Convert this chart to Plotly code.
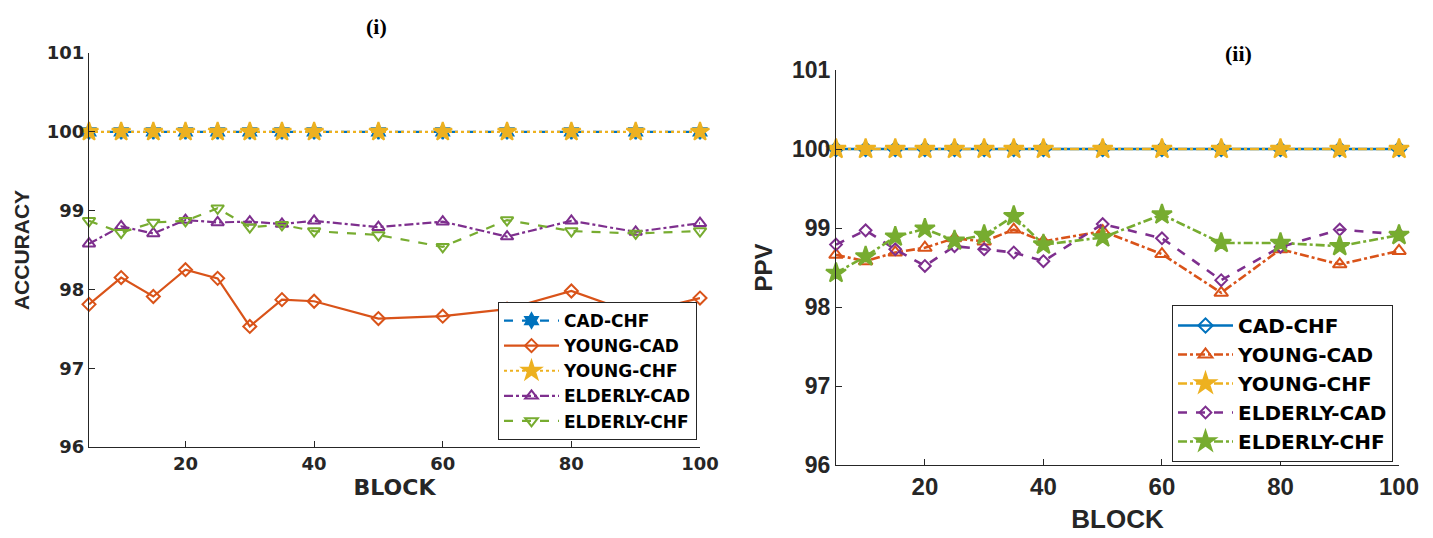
import plotly.graph_objects as go

# Block sizes shared by both panels
blocks = [5, 10, 15, 20, 25, 30, 35, 40, 50, 60, 70, 80, 90, 100]

# Panel (i): accuracy
acc_cad_chf = [100] * 14
acc_young_cad = [97.81, 98.15, 97.91, 98.25, 98.14, 97.53, 97.87, 97.85, 97.63, 97.66, 97.75, 97.98, 97.69, 97.89]
acc_young_chf = [100] * 14
acc_elderly_cad = [98.58, 98.80, 98.71, 98.88, 98.85, 98.86, 98.83, 98.87, 98.79, 98.86, 98.67, 98.87, 98.73, 98.84]
acc_elderly_chf = [98.87, 98.72, 98.85, 98.87, 99.03, 98.79, 98.82, 98.74, 98.69, 98.54, 98.88, 98.74, 98.71, 98.74]

# Panel (ii): PPV
ppv_cad_chf = [100] * 14
ppv_young_cad = [98.66, 98.58, 98.69, 98.75, 98.87, 98.83, 98.98, 98.83, 98.96, 98.67, 98.18, 98.73, 98.54, 98.71]
ppv_young_chf = [100] * 14
ppv_elderly_cad = [98.79, 98.97, 98.73, 98.52, 98.77, 98.73, 98.69, 98.58, 99.05, 98.87, 98.34, 98.76, 98.98, 98.92]
ppv_elderly_chf = [98.43, 98.64, 98.89, 98.99, 98.84, 98.91, 99.15, 98.79, 98.88, 99.17, 98.81, 98.81, 98.77, 98.91]

series_names = ["CAD-CHF", "YOUNG-CAD", "YOUNG-CHF", "ELDERLY-CAD", "ELDERLY-CHF"]
y_ticks = [96, 97, 98, 99, 100, 101]
x_ticks = [20, 40, 60, 80, 100]

BLUE, ORANGE, YELLOW, PURPLE, GREEN = "#0072BD", "#D95319", "#EDB120", "#7E2F8E", "#77AC30"
AX = "#262626"
W, H = 1433, 538

fig = go.Figure()

left_style = [
    (BLUE, "dash", "hexagram", 11),
    (ORANGE, "solid", "diamond-open", 10),
    (YELLOW, "dot", "star", 14),
    (PURPLE, "dashdot", "triangle-up-open", 11),
    (GREEN, "dash", "triangle-down-open", 11),
]
left_data = [acc_cad_chf, acc_young_cad, acc_young_chf, acc_elderly_cad, acc_elderly_chf]
for name, ys, (c, dash, sym, sz) in zip(series_names, left_data, left_style):
    fig.add_trace(go.Scatter(
        x=blocks, y=ys, name=name, mode="lines+markers", cliponaxis=False,
        line=dict(color=c, width=2.2, dash=dash),
        marker=dict(symbol=sym, size=sz, color=c, line=dict(color=c, width=2)),
        xaxis="x", yaxis="y", legend="legend",
    ))

right_style = [
    (BLUE, "solid", "diamond-open", 11),
    (ORANGE, "dashdot", "triangle-up-open", 12),
    (YELLOW, "dashdot", "star", 15),
    (PURPLE, "dash", "diamond-open", 9),
    (GREEN, "dashdot", "star", 15),
]
right_data = [ppv_cad_chf, ppv_young_cad, ppv_young_chf, ppv_elderly_cad, ppv_elderly_chf]
for name, ys, (c, dash, sym, sz) in zip(series_names, right_data, right_style):
    fig.add_trace(go.Scatter(
        x=blocks, y=ys, name=name, mode="lines+markers", cliponaxis=False,
        line=dict(color=c, width=2.6, dash=dash),
        marker=dict(symbol=sym, size=sz, color=c, line=dict(color=c, width=2)),
        xaxis="x2", yaxis="y2", legend="legend2",
    ))


def bold(family, size):
    return dict(family=family, size=size, color=AX, weight="bold")


def x_axis(domain, anchor, tick_font, title_font, standoff):
    return dict(
        domain=domain, anchor=anchor, range=[5, 100], tickvals=x_ticks,
        ticks="inside", ticklen=6, tickcolor=AX, showline=True, linecolor=AX,
        linewidth=1, showgrid=False, zeroline=False, tickfont=tick_font,
        automargin=False,
        title=dict(text="BLOCK", font=title_font, standoff=standoff),
    )


def y_axis(domain, anchor, tick_font, label, title_font, standoff):
    return dict(
        domain=domain, anchor=anchor, range=[96, 101], tickvals=y_ticks,
        ticks="inside", ticklen=6, tickcolor=AX, showline=True, linecolor=AX,
        linewidth=1, showgrid=False, zeroline=False, tickfont=tick_font,
        automargin=False,
        title=dict(text=label, font=title_font, standoff=standoff),
    )


fig.update_layout(
    width=W, height=H, margin=dict(l=0, r=0, t=0, b=0, autoexpand=False),
    paper_bgcolor="white", plot_bgcolor="white", showlegend=True,
    xaxis=x_axis([89 / W, 700 / W], "y", bold("DejaVu Sans", 18),
                 bold("DejaVu Sans", 22), 7),
    yaxis=y_axis([1 - 447 / H, 1 - 53 / H], "x", bold("DejaVu Sans", 18), "ACCURACY",
                 bold("Liberation Sans", 21), 11),
    xaxis2=x_axis([836 / W, 1399 / W], "y2", bold("Liberation Sans", 24),
                  bold("Liberation Sans", 26), 11),
    yaxis2=y_axis([1 - 465 / H, 1 - 70 / H], "x2", bold("Liberation Sans", 23), "PPV",
                  bold("Liberation Sans", 24), 12),
    legend=dict(
        x=697 / W, y=1 - 440 / H, xanchor="right", yanchor="bottom",
        bgcolor="white", bordercolor=AX, borderwidth=1,
        font=dict(family="DejaVu Sans", size=17, color="black", weight="bold"),
        tracegroupgap=0, itemwidth=55,
    ),
    legend2=dict(
        x=1393 / W, y=1 - 462 / H, xanchor="right", yanchor="bottom",
        bgcolor="white", bordercolor=AX, borderwidth=1,
        font=dict(family="DejaVu Sans", size=20, color="black", weight="bold"),
        tracegroupgap=0, itemwidth=55,
    ),
    annotations=[
        dict(text="<b>(i)</b>", x=376 / W, y=1 - 26 / H, xref="paper", yref="paper",
             xanchor="center", yanchor="middle", showarrow=False,
             font=dict(family="Liberation Serif", size=22, color="black")),
        dict(text="<b>(ii)</b>", x=1238 / W, y=1 - 54 / H, xref="paper", yref="paper",
             xanchor="center", yanchor="middle", showarrow=False,
             font=dict(family="Liberation Serif", size=22, color="black")),
    ],
)

fig.write_html("out.html")
